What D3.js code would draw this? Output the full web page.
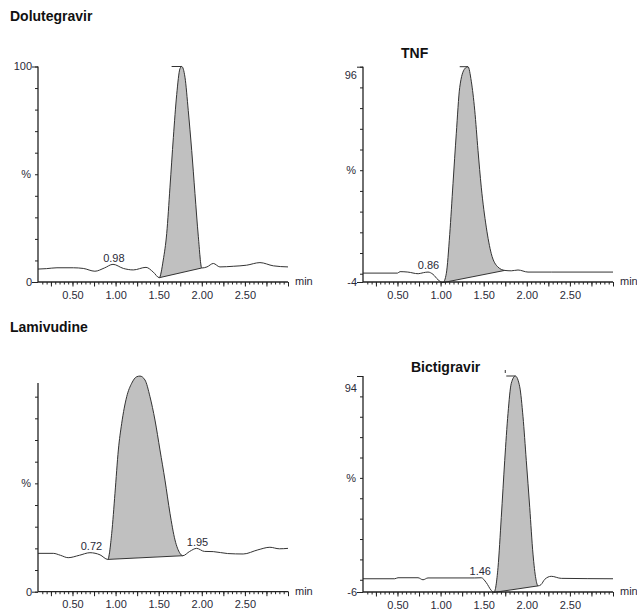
<!DOCTYPE html>
<html>
<head>
<meta charset="utf-8">
<script src="https://cdn.jsdelivr.net/npm/d3@7"></script>
<style>
	body { margin: 0; background: #fff; }
	svg text { font-family: "Liberation Sans", Arial, sans-serif; }
	.title { font-size: 14px; font-weight: bold; fill: #111; }
	.lbl { font-size: 11px; fill: #2a2a38; }
	.trace { fill: none; stroke: #333; stroke-width: 1; }
	.peak { fill: #c0c0c0; stroke: none; }
	.peak-base, .apex { stroke: #333; stroke-width: 1; fill: none; }
	.axis-line { stroke: #222; stroke-width: 1.3; fill: none; }
	.tick line { stroke: #222; stroke-width: 1; }
</style>
</head>
<body>
<svg id="chart" width="637" height="610"></svg>
<script>
"use strict";

/* global d3 */

// retention time axis labels (min)
var rtTicks = [0.50, 1.00, 1.50, 2.00, 2.50];
var rtTickLabels = ["0.50", "1.00", "1.50", "2.00", "2.50"];

// Dolutegravir trace (time min, response %)
var doluTime = [0.10, 0.20, 0.32, 0.51, 0.625, 0.76, 0.87, 0.97, 1.09, 1.205, 1.353, 1.437, 1.507,
	1.553, 1.593, 1.631, 1.67, 1.709, 1.747, 1.767, 1.805, 1.843, 1.883, 1.921, 1.96, 1.999,
	2.06, 2.134, 2.21, 2.365, 2.52, 2.675, 2.83, 3.00];
var doluResp = [6.0, 6.2, 6.6, 6.6, 6.3, 5.0, 6.5, 8.2, 6.3, 5.6, 6.8, 4.6, 2.0,
	10.2, 22.5, 44, 67, 87, 99, 100, 95, 79.6, 61, 41, 21, 6.5,
	7.0, 8.6, 7.0, 7.3, 7.8, 9.0, 7.5, 7.0];
var doluPeak = [1.507, 1.999];
var doluApex = [1.65, 1.767];
var doluLabels = [0.98];

// TNF trace
var tnfTime = [0.10, 0.50, 0.53, 0.62, 0.74, 0.80, 0.854, 0.912, 0.97, 1.028, 1.066, 1.106,
	1.144, 1.182, 1.222, 1.28, 1.318, 1.356, 1.396, 1.434, 1.472, 1.53, 1.588, 1.666, 1.744,
	1.82, 1.898, 2.014, 2.284, 3.00];
var tnfResp = [0.3, 0.3, 1.0, 0.8, 0.0, 0.5, 0.8, -0.3, -2.9, -4.3, 0, 19,
	43.5, 67.6, 90, 99, 100, 93, 79, 59.6, 41.8, 22.5, 9.7, 3.2, 1.6,
	1.4, 1.8, 0.8, 0.8, 0.8];
var tnfPeak = [1.028, 1.744];
var tnfApex = [1.222, 1.318];
var tnfLabels = [0.86];

// Lamivudine trace
var lamiTime = [0.10, 0.277, 0.36, 0.45, 0.58, 0.703, 0.82, 0.91, 0.955, 0.993, 1.032, 1.071,
	1.129, 1.187, 1.245, 1.283, 1.341, 1.399, 1.457, 1.515, 1.573, 1.631, 1.689, 1.747, 1.779,
	1.86, 1.94, 2.03, 2.133, 2.30, 2.48, 2.65, 2.79, 2.90, 3.00];
var lamiResp = [17.7, 17.7, 16.8, 15.7, 16.8, 18.0, 17.0, 14.9, 26.9, 45.4, 65.4, 77.7,
	90, 96.2, 99.2, 99.5, 97.7, 90, 79.2, 65.4, 51.5, 36.2, 23.9, 17.7, 16.6,
	18.6, 20.0, 18.6, 18.5, 17.6, 17.4, 19.3, 20.5, 19.8, 20.0];
var lamiPeak = [0.91, 1.779];
var lamiApex = null;
var lamiLabels = [0.72, 1.95];

// Bictigravir trace
var bictTime = [0.10, 0.468, 0.506, 0.738, 0.796, 0.854, 1.396, 1.472, 1.53, 1.588, 1.62,
	1.666, 1.704, 1.744, 1.782, 1.82, 1.867, 1.918, 1.956, 1.994, 2.034, 2.072, 2.105, 2.13,
	2.165, 2.208, 2.284, 2.40, 3.00];
var bictResp = [0.5, 0.5, 1.0, 1.0, 0.0, 0.9, 0.9, 1.0, -1.4, -5.2, -6.2,
	6, 30.6, 58.6, 81.6, 96.4, 100, 94.7, 80, 58.6, 35.5, 12.6, 0.5, -3.0,
	-2.4, 0.2, 1.7, 0.7, 0.5];
var bictPeak = [1.62, 2.13];
var bictApex = [1.762, 1.867];
var bictLabels = [1.46];

// panel contents
var panels = [
	{ title: "Dolutegravir", time: doluTime, resp: doluResp, peak: doluPeak, apex: doluApex,
		labels: doluLabels, yMin: 0, axisMax: 100, topText: "100", topVal: 100, minText: "0" },
	{ title: "TNF", time: tnfTime, resp: tnfResp, peak: tnfPeak, apex: tnfApex,
		labels: tnfLabels, yMin: -4, axisMax: 100, topText: "96", topVal: 96, minText: "-4" },
	{ title: "Lamivudine", time: lamiTime, resp: lamiResp, peak: lamiPeak, apex: lamiApex,
		labels: lamiLabels, yMin: 0, axisMax: 96.3, topText: null, topVal: null, minText: "0" },
	{ title: "Bictigravir", time: bictTime, resp: bictResp, peak: bictPeak, apex: bictApex,
		labels: bictLabels, yMin: -6, axisMax: 100, topText: "94", topVal: 94, minText: "-6", apexTick: true }
];

// panel placement (px)
var boxes = [
	{ left: 38, top: 66.5, bottom: 282, titleX: 10, titleY: 21 },
	{ left: 363, top: 66.7, bottom: 282, titleX: 401, titleY: 58 },
	{ left: 38, top: 375, bottom: 591.7, titleX: 10, titleY: 331.5 },
	{ left: 363, top: 376, bottom: 592, titleX: 411, titleY: 371.5 }
];
var PLOT_W = 250;

////////////////////////////////////////////////////////////////////////////////
// Linear interpolation of the trace at time t
////////////////////////////////////////////////////////////////////////////////
function respAt(time, resp, t) {
	var i = d3.bisectLeft(time, t);
	if (i <= 0) return resp[0];
	if (i >= time.length) return resp[resp.length - 1];
	var f = (t - time[i - 1]) / (time[i] - time[i - 1]);
	return resp[i - 1] + f * (resp[i] - resp[i - 1]);
}

////////////////////////////////////////////////////////////////////////////////
// Draw one chromatogram panel
////////////////////////////////////////////////////////////////////////////////
function drawPanel(svg, p, box) {
	var x = d3.scaleLinear().domain([0.1, 3.0]).range([box.left, box.left + PLOT_W]);
	var y = d3.scaleLinear().domain([p.yMin, 100]).range([box.bottom, box.top]);
	var pts = p.time.map(function(t, i) { return [t, p.resp[i]]; });
	var g = svg.append('g');

	// title
	g.append('text').attr('class', 'title').attr('x', box.titleX).attr('y', box.titleY).text(p.title);

	// integrated peak area (between trace and straight baseline)
	var base = d3.scaleLinear().domain(p.peak).
		range([respAt(p.time, p.resp, p.peak[0]), respAt(p.time, p.resp, p.peak[1])]);
	var inPeak = pts.filter(function(d) { return d[0] >= p.peak[0] - 1e-6 && d[0] <= p.peak[1] + 1e-6; });
	g.append('path').datum(inPeak).attr('class', 'peak').
		attr('d', d3.area().curve(d3.curveMonotoneX).
			x(function(d) { return x(d[0]); }).
			y0(function(d) { return y(base(d[0])); }).
			y1(function(d) { return y(d[1]); }));
	g.append('line').attr('class', 'peak-base').
		attr('x1', x(p.peak[0])).attr('y1', y(base(p.peak[0]))).
		attr('x2', x(p.peak[1])).attr('y2', y(base(p.peak[1])));

	// trace
	g.append('path').datum(pts).attr('class', 'trace').
		attr('d', d3.line().curve(d3.curveMonotoneX).
			x(function(d) { return x(d[0]); }).y(function(d) { return y(d[1]); }));

	// apex marker
	if (p.apex) {
		g.append('line').attr('class', 'apex').
			attr('x1', x(p.apex[0])).attr('x2', x(p.apex[1])).
			attr('y1', y(100)).attr('y2', y(100));
		if (p.apexTick) {
			g.append('line').attr('class', 'apex').
				attr('x1', x(p.apex[0]) - 1).attr('x2', x(p.apex[0]) - 1).
				attr('y1', y(100) - 6).attr('y2', y(100) - 3);
		}
	}

	// peak retention time labels
	p.labels.forEach(function(rt) {
		g.append('text').attr('class', 'lbl').attr('text-anchor', 'middle').
			attr('x', x(rt)).attr('y', y(respAt(p.time, p.resp, rt)) - 3).text(rt.toFixed(2));
	});

	// y axis: ticks every 10 %
	var yTicks = d3.range(0, p.axisMax + 0.01, 10);
	g.append('g').attr('transform', 'translate(' + box.left + ',0)').
		call(d3.axisLeft(y).tickValues(yTicks).tickSize(3).tickFormat('')).
		call(function(a) { a.select('.domain').remove(); });
	// long ticks at top and bottom labels
	var longTicks = [p.yMin];
	if (p.axisMax >= 100) longTicks.push(100);
	g.append('g').attr('transform', 'translate(' + box.left + ',0)').
		call(d3.axisLeft(y).tickValues(longTicks).tickSize(6).tickFormat('')).
		call(function(a) { a.select('.domain').remove(); });
	g.append('line').attr('class', 'axis-line').
		attr('x1', box.left).attr('x2', box.left).
		attr('y1', y(p.yMin)).attr('y2', y(p.axisMax));

	if (p.topText) {
		g.append('text').attr('class', 'lbl').attr('text-anchor', 'end').
			attr('x', box.left - 6).attr('y', y(p.topVal)).attr('dy', '0.35em').text(p.topText);
	}
	g.append('text').attr('class', 'lbl').attr('text-anchor', 'end').
		attr('x', box.left - 7).attr('y', y(50)).attr('dy', '0.35em').text('%');
	g.append('text').attr('class', 'lbl').attr('text-anchor', 'end').
		attr('x', box.left - 6).attr('y', y(p.yMin)).attr('dy', '0.35em').text(p.minText);

	// x axis
	var yAx = y(p.yMin);
	var minor = d3.range(3, 61).map(function(i) { return i * 0.05; });
	var major = d3.range(1, 13).map(function(i) { return i * 0.25; });
	g.append('g').attr('transform', 'translate(0,' + yAx + ')').
		call(d3.axisBottom(x).tickValues(minor).tickSize(2.5).tickFormat('')).
		call(function(a) { a.select('.domain').remove(); });
	g.append('g').attr('transform', 'translate(0,' + yAx + ')').
		call(d3.axisBottom(x).tickValues(major).tickSize(4.5).tickPadding(4.2).
			tickFormat(function(d) {
				var k = rtTicks.findIndex(function(v) { return Math.abs(v - d) < 1e-6; });
				return k >= 0 ? rtTickLabels[k] : '';
			})).
		call(function(a) {
			a.select('.domain').remove();
			a.selectAll('text').attr('class', 'lbl').attr('font-family', null).attr('font-size', null);
		});
	g.append('line').attr('class', 'axis-line').
		attr('x1', box.left).attr('x2', box.left + PLOT_W).attr('y1', yAx).attr('y2', yAx);
	g.append('text').attr('class', 'lbl').attr('x', box.left + PLOT_W + 7).attr('y', yAx + 3).text('min');
}

var svg = d3.select('#chart');
svg.append('rect').attr('width', 637).attr('height', 610).attr('fill', '#fff');
panels.forEach(function(p, i) { drawPanel(svg, p, boxes[i]); });
</script>
</body>
</html>
